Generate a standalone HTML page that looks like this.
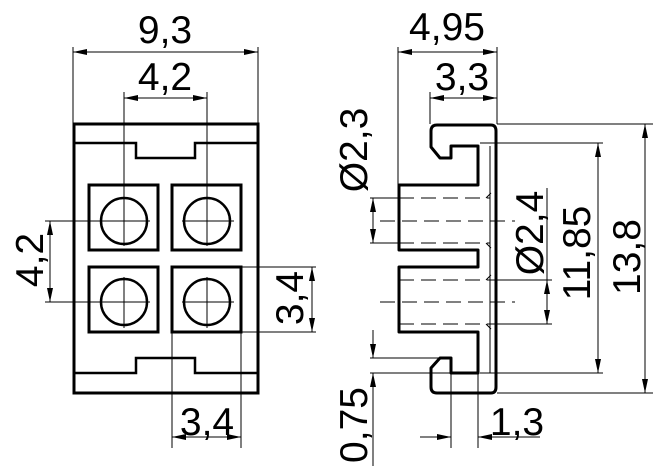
<!DOCTYPE html>
<html><head><meta charset="utf-8"><style>
html,body{margin:0;padding:0;background:#fff;}
svg{display:block;}
text{font-family:"Liberation Sans",sans-serif;font-size:39px;fill:#000;}
</style></head><body>
<svg width="653" height="466" viewBox="0 0 653 466" xmlns="http://www.w3.org/2000/svg">
<defs>
<marker id="a" viewBox="0 0 14 6" refX="14" refY="3" markerWidth="14" markerHeight="6" markerUnits="userSpaceOnUse" orient="auto-start-reverse"><path d="M0,0L14,3L0,6z" fill="#000"/></marker>
</defs>
<g fill="none" stroke="#000">
<rect x="74" y="124" width="184" height="269" stroke-width="3"/>
<path d="M74,143H136V158H195V143H258" stroke-width="2.5"/>
<path d="M74,373H136V358H195V373H258" stroke-width="2.5"/>
<rect x="89" y="185" width="69" height="65" stroke-width="3"/>
<rect x="172" y="185" width="69" height="65" stroke-width="3"/>
<rect x="89" y="267" width="69" height="65" stroke-width="3"/>
<rect x="172" y="267" width="69" height="65" stroke-width="3"/>
<circle cx="124" cy="221" r="23" stroke-width="2.5"/>
<circle cx="207" cy="221" r="23" stroke-width="2.5"/>
<circle cx="124" cy="302" r="23" stroke-width="2.5"/>
<circle cx="207" cy="302" r="23" stroke-width="2.5"/>
<g stroke-width="1">
<path d="M124,92V246M207,92V246M124,277V328M207,277V328"/>
<path d="M45,221H150M182,221H234M45,302H150M182,302H234"/>
<path d="M73,47V124M258,47V124"/>
<path d="M172,330V448M241,267H316M241,330V448M241,332H316"/>
<line x1="73" y1="52" x2="258" y2="52" marker-start="url(#a)" marker-end="url(#a)"/>
<line x1="124" y1="98" x2="207" y2="98" marker-start="url(#a)" marker-end="url(#a)"/>
<line x1="50" y1="221" x2="50" y2="302" marker-start="url(#a)" marker-end="url(#a)"/>
<line x1="312" y1="267" x2="312" y2="332" marker-start="url(#a)" marker-end="url(#a)"/>
<line x1="172" y1="437" x2="241" y2="437" marker-start="url(#a)" marker-end="url(#a)"/>
</g>
<path d="M478,146H451V158H440L431,147V131Q431,125 437,125H491Q496,125 496,131V387Q496,393 491,393H437Q431,393 431,387V368L440,358H451V373H478V332H399V267H478V250H399V185H478Z" stroke-width="3" stroke-linejoin="round"/>
<g stroke-width="1">
<path d="M490,146V373"/>
<path d="M399,198H490M399,243H490M399,280H490M399,324H490M380,221H515M380,302H515" stroke-dasharray="15,7"/>
<path d="M486,198L491,193M486,243L491,248M486,280L491,275M486,324L491,329"/>
<path d="M398,47V185M497,47V124M430,92V124"/>
<path d="M370,198H400M370,243H400M490,280H552M490,324H552M547,188V280"/>
<path d="M480,143H603M497,124H653M480,373H603M497,393H653"/>
<path d="M370,358H440M370,373H450M373,330V357M373,373V466"/>
<path d="M451,373V448M478,373V448"/>
<line x1="398" y1="52" x2="497" y2="52" marker-start="url(#a)" marker-end="url(#a)"/>
<line x1="430" y1="98" x2="497" y2="98" marker-start="url(#a)" marker-end="url(#a)"/>
<line x1="373" y1="198" x2="373" y2="243" marker-start="url(#a)" marker-end="url(#a)"/>
<line x1="547" y1="280" x2="547" y2="324" marker-start="url(#a)" marker-end="url(#a)"/>
<line x1="598" y1="143" x2="598" y2="373" marker-start="url(#a)" marker-end="url(#a)"/>
<line x1="645" y1="124" x2="645" y2="393" marker-start="url(#a)" marker-end="url(#a)"/>
<line x1="373" y1="340" x2="373" y2="358" marker-end="url(#a)"/>
<line x1="373" y1="392" x2="373" y2="373" marker-end="url(#a)"/>
<line x1="420" y1="437" x2="451" y2="437" marker-end="url(#a)"/>
<line x1="540" y1="437" x2="478" y2="437" marker-end="url(#a)"/>
</g>
</g>
<g text-anchor="middle">
<text x="165" y="43">9,3</text>
<text x="165" y="90">4,2</text>
<text x="207" y="435">3,4</text>
<text transform="translate(43,260) rotate(-90)">4,2</text>
<text transform="translate(303,298) rotate(-90)">3,4</text>
<text x="447" y="40">4,95</text>
<text x="462" y="90">3,3</text>
<text x="517" y="435">1,3</text>
<text transform="translate(367,150) rotate(-90)">Ø2,3</text>
<text transform="translate(543,233) rotate(-90)">Ø2,4</text>
<text transform="translate(590,253) rotate(-90)">11,85</text>
<text transform="translate(640,257) rotate(-90)">13,8</text>
<text transform="translate(367,425) rotate(-90)">0,75</text>
</g>
</svg>
</body></html>
